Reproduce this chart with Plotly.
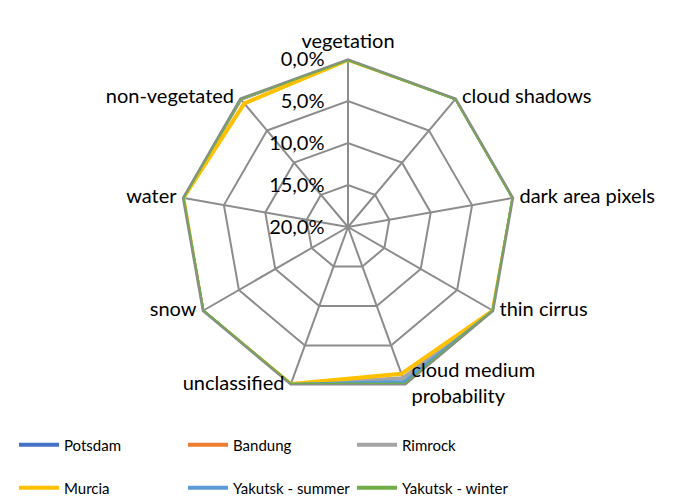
import plotly.graph_objects as go

# Share of pixels per scene classification class (fractions, 0.01 = 1 %)
categories = ["vegetation", "cloud shadows", "dark area pixels", "thin cirrus",
              "cloud medium<br>probability", "unclassified", "snow", "water",
              "non-vegetated"]

potsdam = [0.0, 0.0, 0.0, 0.0, 0.002, 0.0, 0.0, 0.0, 0.001]
bandung = [0.0, 0.0, 0.0, 0.0, 0.001, 0.0, 0.0, 0.0, 0.001]
rimrock = [0.0, 0.0, 0.0, 0.0, 0.0085, 0.0, 0.0, 0.0, 0.001]
murcia = [0.001, 0.0, 0.0, 0.001, 0.014, 0.001, 0.0, 0.001, 0.008]
yakutsk_summer = [0.0, 0.0, 0.0, 0.0, 0.0035, 0.0, 0.0, 0.0, 0.0]
yakutsk_winter = [0.0, 0.0, 0.0, 0.0, 0.0, 0.0, 0.0, 0.0, 0.0]

radial_ticks = [0.0, 0.05, 0.10, 0.15, 0.20]

series = [
    ("Potsdam", potsdam, "#4472C4", "legend"),
    ("Bandung", bandung, "#ED7D31", "legend"),
    ("Rimrock", rimrock, "#A5A5A5", "legend"),
    ("Murcia", murcia, "#FFC000", "legend2"),
    ("Yakutsk - summer", yakutsk_summer, "#5B9BD5", "legend2"),
    ("Yakutsk - winter", yakutsk_winter, "#70AD47", "legend2"),
]

# where each category name sits relative to its spoke end
label_positions = ["top center", "middle right", "middle right", "middle right",
                   "middle right", "middle left", "middle left", "middle left",
                   "middle left"]

FONT = "Lato, Calibri, sans-serif"
GRID = "#8C8C8C"

fig = go.Figure()
for name, vals, color, leg in series:
    fig.add_trace(go.Scatterpolar(
        r=vals + vals[:1],
        theta=categories + categories[:1],
        mode="lines",
        name=name,
        line=dict(color=color, width=4),
        legend=leg,
        subplot="polar",
    ))

# category names at the outer end of each spoke (overlay polar with 0..1 scale);
# an invisible marker keeps a small gap between the spoke end and its name
fig.add_trace(go.Scatterpolar(
    r=[1] * len(categories),
    theta=categories,
    mode="markers+text",
    marker=dict(size=8, opacity=0),
    text=categories,
    textposition=label_positions,
    textfont=dict(family=FONT, size=20, color="#000000"),
    cliponaxis=False,
    showlegend=False,
    hoverinfo="skip",
    subplot="polar2",
))

W, H = 684, 496
cx, cy, rad = 348, 227, 168
domain = dict(x=[(cx - rad) / W, (cx + rad) / W],
              y=[1 - (cy + rad) / H, 1 - (cy - rad) / H])

legend_common = dict(
    orientation="h",
    x=14 / W, xanchor="left",
    yanchor="middle",
    itemwidth=40,
    entrywidth=114, entrywidthmode="pixels",
    font=dict(family=FONT, size=15),
    bgcolor="rgba(0,0,0,0)",
)

fig.update_layout(
    width=W, height=H,
    margin=dict(l=0, r=0, t=0, b=0, autoexpand=False),
    paper_bgcolor="white",
    plot_bgcolor="white",
    separators=",.",
    font=dict(family=FONT, size=20, color="#000000"),
    polar=dict(
        domain=domain,
        bgcolor="white",
        gridshape="linear",
        radialaxis=dict(
            range=[0.20, 0.0],
            tickvals=radial_ticks,
            tickformat=".1%",
            angle=90,
            tickangle=90,
            side="counterclockwise",
            showline=False,
            ticks="outside",
            ticklen=16,
            tickcolor="rgba(0,0,0,0)",
            gridcolor=GRID,
            gridwidth=1.5,
            tickfont=dict(family=FONT, size=20, color="#000000"),
        ),
        angularaxis=dict(
            direction="clockwise",
            rotation=90,
            categoryorder="array",
            categoryarray=categories,
            showticklabels=False,
            gridcolor=GRID,
            gridwidth=1.5,
            linecolor=GRID,
            linewidth=1.5,
            ticks="",
        ),
    ),
    polar2=dict(
        domain=domain,
        bgcolor="rgba(0,0,0,0)",
        radialaxis=dict(range=[0, 1], visible=False),
        angularaxis=dict(
            direction="clockwise",
            rotation=90,
            categoryorder="array",
            categoryarray=categories,
            visible=False,
        ),
    ),
    legend=dict(legend_common, y=1 - 445 / H),
    legend2=dict(legend_common, y=1 - 488 / H),
)

fig.write_html("out.html")
